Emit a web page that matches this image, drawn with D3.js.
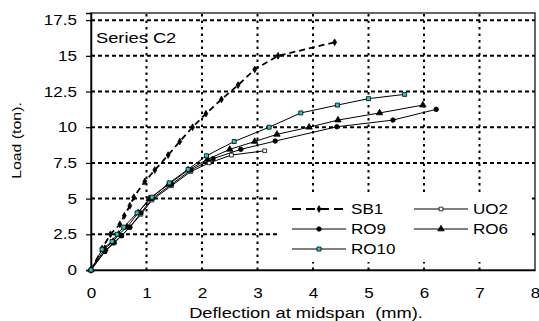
<!DOCTYPE html>
<html>
<head>
<meta charset="utf-8">
<script src="https://cdn.jsdelivr.net/npm/d3@7"></script>
<style>
body { margin: 0; background: #fff; }
text { font-family: "Liberation Sans", Arial, sans-serif; fill: #000; white-space: pre; }
</style>
</head>
<body>
<script>
// values: [deflection mm, load ton]
var sb1 = [[0,0],[0.2,1.5],[0.35,2.5],[0.52,3.2],[0.6,3.8],[0.7,4.5],[0.77,5.1],[0.97,6.2],[1.15,7],[1.39,8.05],[1.6,9],[1.83,10],[2.07,10.95],[2.35,11.95],[2.65,12.95],[2.95,14.05],[3.37,15],[4.39,15.95]];
var uo2 = [[0,0],[0.25,1.3],[0.42,1.9],[0.55,2.4],[0.7,3],[0.9,3.9],[1.1,4.9],[1.45,5.9],[1.8,6.9],[2.13,7.5],[2.53,8.05],[3.13,8.35]];
var ro9 = [[0,0],[0.25,1.3],[0.4,1.9],[0.55,2.4],[0.7,3],[0.9,4],[1.1,5],[1.45,6],[1.8,7],[2.2,7.8],[2.7,8.45],[3.32,9.03],[4.43,10.03],[5.44,10.5],[6.22,11.25]];
var ro6 = [[0,0],[0.25,1.5],[0.4,2],[0.5,2.5],[0.65,3],[0.85,4],[1.05,5],[1.4,6],[1.75,7],[2.1,7.75],[2.5,8.45],[2.95,9],[3.35,9.5],[3.93,10],[4.45,10.5],[5.2,11],[5.98,11.55]];
var ro10 = [[0,0],[0.2,1.45],[0.38,2],[0.47,2.5],[0.59,3],[0.83,4],[1.1,5.1],[1.41,6.1],[1.75,7.05],[2.08,8],[2.58,9],[3.21,10],[3.78,11],[4.44,11.55],[5.0,12],[5.65,12.3]];

var xTicks = [0,1,2,3,4,5,6,7,8];
var yTicks = [0,2.5,5,7.5,10,12.5,15,17.5];
var xTitle = "Deflection at midspan  (mm).";
var yTitle = "Load (ton).";
var seriesLabel = "Series C2";

var series = [
  {name: "SB1", data: sb1, sym: d3.symbolDiamond, size: 13, fill: "#000", dash: "6,4", width: 1.8},
  {name: "UO2", data: uo2, sym: d3.symbolSquare, size: 14, fill: "#fff", dash: null, width: 1},
  {name: "RO9", data: ro9, sym: d3.symbolCircle, size: 16, fill: "#000", dash: null, width: 1},
  {name: "RO6", data: ro6, sym: d3.symbolTriangle, size: 18, fill: "#000", dash: null, width: 1},
  {name: "RO10", data: ro10, sym: d3.symbolSquare, size: 16, fill: "#22cccc", dash: null, width: 1}
];

var width = 539, height = 321;
var sx = 1.22; // text in the picture is stretched sideways

var svg = d3.select("body").append("svg")
    .attr("width", width)
    .attr("height", height);

var x = d3.scaleLinear().domain([0, 8]).range([91, 535]);
var y = d3.scaleLinear().domain([0, 18]).range([270, 13]);

// gridlines
svg.append("g").selectAll("line")
    .data(yTicks.filter(d => d > 0))
    .enter().append("line")
    .attr("x1", x(0)).attr("x2", x(8))
    .attr("y1", d => y(d)).attr("y2", d => y(d))
    .attr("stroke", "#000").attr("stroke-width", 2)
    .attr("stroke-dasharray", "4,3");

svg.append("g").selectAll("line")
    .data(xTicks.filter(d => d > 0 && d < 8))
    .enter().append("line")
    .attr("x1", d => x(d)).attr("x2", d => x(d))
    .attr("y1", y(0)).attr("y2", y(18))
    .attr("stroke", "#000").attr("stroke-width", 2)
    .attr("stroke-dasharray", "2.5,4");

// frame
svg.append("rect")
    .attr("x", x(0)).attr("y", y(18))
    .attr("width", x(8) - x(0)).attr("height", y(0) - y(18))
    .attr("fill", "none").attr("stroke", "#000").attr("stroke-width", 1.2);

// axes
var gx = svg.append("g")
    .attr("transform", "translate(0," + y(0) + ")")
    .call(d3.axisBottom(x).tickValues(xTicks).tickSize(0).tickPadding(18).tickFormat(d => d));
gx.select(".domain").attr("stroke", "#000").attr("stroke-width", 1.5);
gx.selectAll("text").style("font-size", "14px")
    .attr("transform", "scale(" + sx + ",1)");

var gy = svg.append("g")
    .attr("transform", "translate(" + x(0) + ",0)")
    .call(d3.axisLeft(y).tickValues(yTicks).tickSize(5).tickPadding(9).tickFormat(d => d));
gy.select(".domain").attr("stroke", "#000").attr("stroke-width", 1.5);
gy.selectAll(".tick line").attr("stroke", "#000").attr("stroke-width", 1.2);
gy.selectAll("text").style("font-size", "14px")
    .attr("x", -14 / sx)
    .attr("transform", "scale(" + sx + ",1)");

svg.selectAll(".tick text").style("font-family", "'Liberation Sans', Arial, sans-serif").attr("fill", "#000");

// titles
svg.append("text")
    .attr("transform", "translate(306,318) scale(" + sx + ",1)")
    .attr("text-anchor", "middle")
    .style("font-size", "15px")
    .text(xTitle);

svg.append("text")
    .attr("transform", "translate(21,140.5) rotate(-90) scale(" + sx + ",1)")
    .attr("text-anchor", "middle")
    .style("font-size", "13px")
    .text(yTitle);

svg.append("text")
    .attr("transform", "translate(96,43) scale(" + sx + ",1)")
    .style("font-size", "15px")
    .text(seriesLabel);

// curves
var line = d3.line().x(d => x(d[0])).y(d => y(d[1]));

series.forEach(s => {
    svg.append("path")
        .datum(s.data)
        .attr("d", line)
        .attr("fill", "none")
        .attr("stroke", "#000")
        .attr("stroke-width", s.width)
        .attr("stroke-dasharray", s.dash);
});

series.forEach(s => {
    svg.append("g").selectAll("path")
        .data(s.data)
        .enter().append("path")
        .attr("transform", d => "translate(" + x(d[0]) + "," + y(d[1]) + ")")
        .attr("d", d3.symbol().type(s.sym).size(s.size))
        .attr("fill", s.fill)
        .attr("stroke", "#000")
        .attr("stroke-width", 0.8);
});

// legend
var leg = svg.append("g");
leg.append("rect")
    .attr("x", 279).attr("y", 196)
    .attr("width", 253).attr("height", 66)
    .attr("fill", "#fff");

series.forEach((s, i) => {
    var col = i % 2, row = Math.floor(i / 2);
    var lx = 292 + col * 122, ly = 209 + row * 20;
    var g = leg.append("g").attr("transform", "translate(" + lx + "," + ly + ")");
    g.append("line")
        .attr("x1", 0).attr("x2", 54)
        .attr("stroke", "#000")
        .attr("stroke-width", s.width)
        .attr("stroke-dasharray", s.dash ? "9,5" : null);
    g.append("path")
        .attr("transform", "translate(27,0)")
        .attr("d", d3.symbol().type(s.sym).size(s.size))
        .attr("fill", s.fill)
        .attr("stroke", "#000")
        .attr("stroke-width", 0.8);
    g.append("text")
        .attr("transform", "translate(59,5) scale(" + sx + ",1)")
        .style("font-size", "14px")
        .text(s.name);
});
</script>
</body>
</html>
